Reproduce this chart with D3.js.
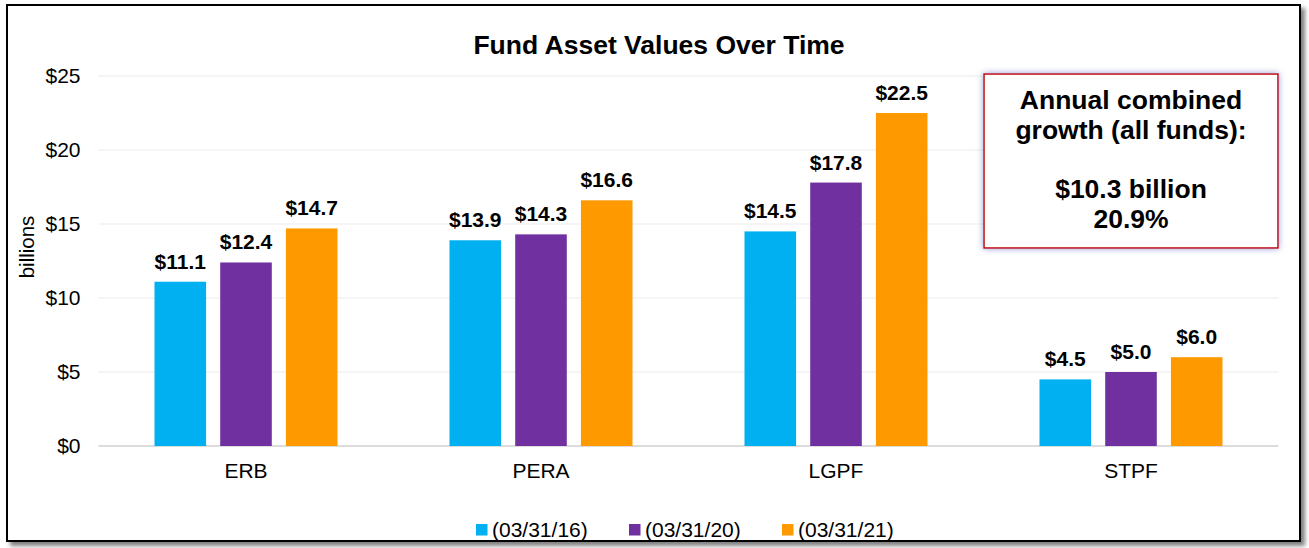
<!DOCTYPE html>
<html>
<head>
<meta charset="utf-8">
<script src="https://cdn.jsdelivr.net/npm/d3@7"></script>
<style>
  body { margin: 0; background: #fff; }
  svg { display: block; font-family: Arial, "Liberation Sans", sans-serif; }
</style>
</head>
<body>
<div id="container"></div>
<script>
let w = 1309;
let h = 548;

// data
let funds = ["ERB", "PERA", "LGPF", "STPF"];
let dates = ["(03/31/16)", "(03/31/20)", "(03/31/21)"];
let values16 = [11.1, 13.9, 14.5, 4.5];
let values20 = [12.4, 14.3, 17.8, 5.0];
let values21 = [14.7, 16.6, 22.5, 6.0];
let yTicks = [0, 5, 10, 15, 20, 25];
let colors = ["#00B0F0", "#7030A0", "#FF9900"];
let noteLines = ["Annual combined", "growth (all funds):", "", "$10.3 billion", "20.9%"];

let series = [values16, values20, values21];

let viz = d3.select("#container").append("svg")
    .attr("width", w)
    .attr("height", h);

let defs = viz.append("defs");
let sh = defs.append("filter").attr("id", "frameShadow")
    .attr("x", "-5%").attr("y", "-5%").attr("width", "110%").attr("height", "110%");
sh.append("feDropShadow").attr("dx", 4).attr("dy", 4).attr("stdDeviation", 2)
    .attr("flood-color", "#000").attr("flood-opacity", 0.5);
let glow = defs.append("filter").attr("id", "glow")
    .attr("x", "-10%").attr("y", "-10%").attr("width", "120%").attr("height", "120%");
glow.append("feDropShadow").attr("dx", 0).attr("dy", 0).attr("stdDeviation", 3)
    .attr("flood-color", "#7b84c8").attr("flood-opacity", 0.8);

// outer frame
viz.append("rect")
    .attr("x", 7).attr("y", 5)
    .attr("width", 1293).attr("height", 536)
    .attr("fill", "#fff")
    .attr("stroke", "#000")
    .attr("stroke-width", 2)
    .attr("filter", "url(#frameShadow)");

let plotLeft = 98.5, plotRight = 1278.5, plotTop = 76, plotBottom = 446;

let x = d3.scaleBand().domain(funds).range([plotLeft, plotRight]);
let y = d3.scaleLinear().domain([0, 25]).range([plotBottom, plotTop]);
let sub = d3.scaleBand().domain(d3.range(dates.length))
    .range([56, x.bandwidth() - 56])
    .paddingInner(0.215);

// gridlines
viz.append("g").selectAll("line").data(yTicks).enter()
  .append("line")
    .attr("x1", plotLeft).attr("x2", plotRight)
    .attr("y1", d => y(d)).attr("y2", d => y(d))
    .attr("stroke", d => d == 0 ? "#d0d0d0" : "#ebebeb")
    .attr("stroke-width", d => d == 0 ? 1.5 : 1.2);

// y axis labels
let yAxis = viz.append("g")
    .attr("transform", "translate(" + (plotLeft - 18) + ",0)")
    .call(d3.axisLeft(y).tickValues(yTicks).tickSize(0).tickPadding(0).tickFormat(d => "$" + d));
yAxis.select(".domain").remove();
yAxis.selectAll("text")
    .attr("font-family", "Arial, 'Liberation Sans', sans-serif")
    .attr("font-size", 21)
    .attr("fill", "#000");

// x axis labels
let xAxis = viz.append("g")
    .attr("transform", "translate(0," + plotBottom + ")")
    .call(d3.axisBottom(x).tickSize(0).tickPadding(17));
xAxis.select(".domain").remove();
xAxis.selectAll("text")
    .attr("font-family", "Arial, 'Liberation Sans', sans-serif")
    .attr("font-size", 21)
    .attr("fill", "#000");

// bars
let groups = viz.append("g").selectAll("g").data(funds).enter()
  .append("g")
    .attr("transform", d => "translate(" + x(d) + ",0)");

groups.each(function(f, fi) {
  let g = d3.select(this);
  series.forEach(function(vals, si) {
    let v = vals[fi];
    g.append("rect")
        .attr("x", sub(si))
        .attr("y", y(v))
        .attr("width", sub.bandwidth())
        .attr("height", y(0) - y(v))
        .attr("fill", colors[si]);
    g.append("text")
        .text("$" + v.toFixed(1))
        .attr("x", sub(si) + sub.bandwidth() / 2)
        .attr("y", y(v) - 13)
        .attr("text-anchor", "middle")
        .attr("font-size", 21)
        .attr("font-weight", "bold")
        .attr("fill", "#000");
  });
});

// title
viz.append("text")
    .text("Fund Asset Values Over Time")
    .attr("x", 659)
    .attr("y", 54)
    .attr("text-anchor", "middle")
    .attr("font-size", 26.5)
    .attr("font-weight", "bold");

// y title
viz.append("text")
    .text("billions")
    .attr("transform", "translate(34,247) rotate(-90)")
    .attr("text-anchor", "middle")
    .attr("font-size", 20.5);

// note box
viz.append("rect")
    .attr("x", 984).attr("y", 74)
    .attr("width", 294).attr("height", 174)
    .attr("fill", "#fff")
    .attr("stroke", "#c00000")
    .attr("stroke-width", 1.5)
    .attr("filter", "url(#glow)");
viz.append("g").selectAll("text").data(noteLines).enter()
  .append("text")
    .text(d => d)
    .attr("x", 1131)
    .attr("y", (d, i) => 109 + i * 29.7)
    .attr("text-anchor", "middle")
    .attr("font-size", 26.5)
    .attr("font-weight", "bold");

// legend
let legendX = [476, 629, 782];
let legend = viz.append("g").selectAll("g").data(dates).enter()
  .append("g")
    .attr("transform", (d, i) => "translate(" + legendX[i] + ",524)");
legend.append("rect")
    .attr("width", 11.5).attr("height", 11.5)
    .attr("fill", (d, i) => colors[i]);
legend.append("text")
    .text(d => d)
    .attr("x", 16)
    .attr("y", 13)
    .attr("font-size", 21);
</script>
</body>
</html>
